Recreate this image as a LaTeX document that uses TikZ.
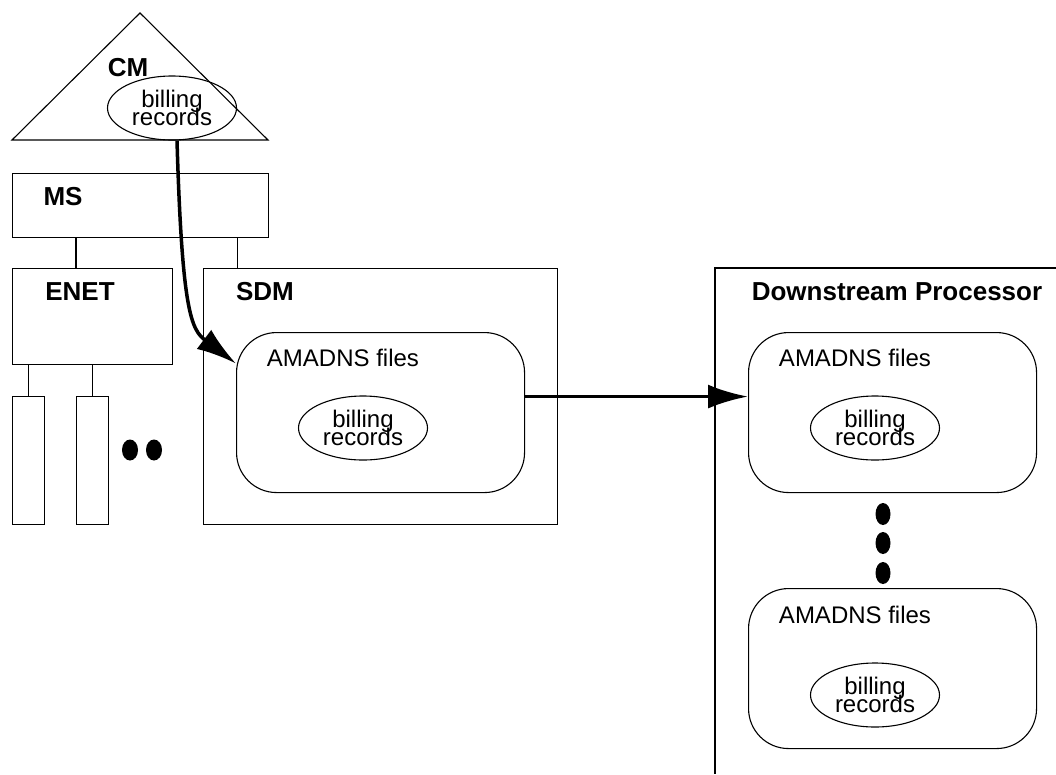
\documentclass[tikz,border=0pt]{standalone}
\usepackage{fontspec}
\setmainfont{Liberation Sans}
\usepackage{tikz}
\usetikzlibrary{arrows.meta,shapes.geometric}
\newcommand{\recfont}{\fontsize{24}{18}\selectfont\setlength{\lineskiplimit}{-30pt}}

\begin{document}
\begin{tikzpicture}[x=1pt, y=-1pt, line width=1.1pt,
  blk/.style={draw, inner sep=0pt, anchor=north west},
  files/.style={blk, rounded corners=40pt, minimum width=288pt, minimum height=160pt},
  rec/.style={draw, ellipse, inner sep=0pt, minimum width=129pt, minimum height=64pt,
    align=center, font=\recfont},
  ttl/.style={font=\fontsize{26}{30}\selectfont\bfseries},
  lbl/.style={font=\fontsize{24}{28}\selectfont},
  dot/.style={ellipse, fill, inner sep=0pt, minimum width=16pt, minimum height=21pt},
  flow/.style={-{Latex[length=40pt,width=24pt]}, line width=3.5pt}]
  \useasboundingbox (0,0) rectangle (1056,774);

  % CM on top of MS, ENET below it
  \draw (12,140) -- (140,13) -- (268,140) -- cycle;
  \node[ttl] (cmlbl) at (128,68) {CM};
  \node[rec] (cmrec) at (172,108) {billing\\records};
  \node[blk, minimum width=256pt, minimum height=64pt] (ms) at (12,173) {};
  \node[ttl] (mslbl) at (63,197) {MS};
  \node[blk, minimum width=160pt, minimum height=96pt] (enet) at (12,268) {};
  \node[ttl] (enetlbl) at (80,292) {ENET};
  \node[blk, minimum width=32pt, minimum height=128pt] (slota) at (12,396) {};
  \node[blk, minimum width=32pt, minimum height=128pt] (slotb) at (76,396) {};
  \node[dot] (enda) at (130,450) {};
  \node[dot] (endb) at (154,450) {};

  % SDM
  \node[blk, minimum width=354pt, minimum height=256pt] (sdm) at (203,268) {};
  \node[ttl] (sdmlbl) at (265,292) {SDM};
  \node[files] (sdmfiles) at (236,332) {};
  \node[lbl] (sdmflbl) at (343,358) {AMADNS files};
  \node[rec] (sdmrec) at (363,428) {billing\\records};

  % downstream side
  \draw (1056,268) -| (715,774);
  \node[ttl] (dslbl) at (897,292) {Downstream Processor};
  \node[files] (dsa) at (748,332) {};
  \node[lbl] (dsalbl) at (855,358) {AMADNS files};
  \node[rec] (dsarec) at (875,428) {billing\\records};
  \foreach \y/\n in {514/a,543/b,573/c}
    \node[dot, minimum width=15pt, minimum height=22pt] (vdot\n) at (883,\y) {};
  \node[files] (dsb) at (748,588) {};
  \node[lbl] (dsblbl) at (855,615) {AMADNS files};
  \node[rec] (dsbrec) at (875,695) {billing\\records};

  % links
  \draw ([xshift=64pt]ms.south west) -- ([xshift=64pt]enet.north west);
  \draw ([xshift=-32pt]ms.south east) -- ([xshift=-32pt]ms.south east |- sdm.north);
  \draw (slota.north) -- (slota.north |- enet.south);
  \draw (slotb.north) -- (slotb.north |- enet.south);
  \draw[flow] ([xshift=5pt]cmrec.south) .. controls +(5,170) and +(-45,-34) .. ([yshift=49pt]sdmfiles.west);
  \draw[flow] ([yshift=16pt]sdmfiles.east) -- ([yshift=16pt]dsa.west);
\end{tikzpicture}
\end{document}
